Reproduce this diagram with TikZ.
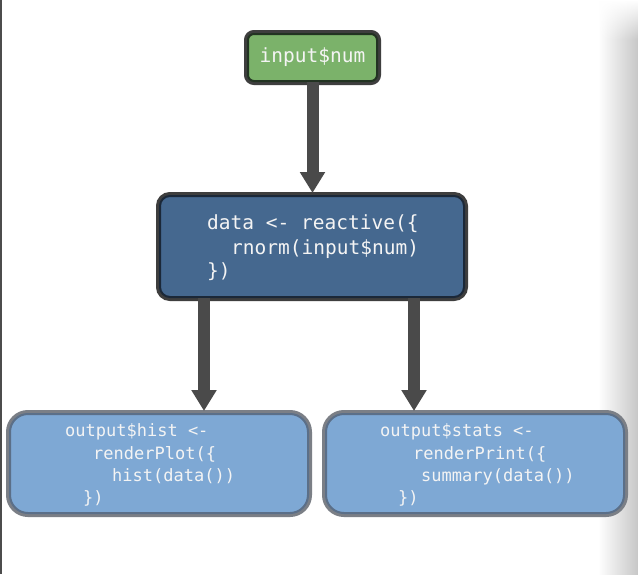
\documentclass[tikz,border=0pt]{standalone}
\usepackage{fontspec}
\newfontfamily\codefont{DejaVu Sans Mono}
\usetikzlibrary{arrows.meta, fadings}

\definecolor{inputfill}{HTML}{7BB26A}
\definecolor{inputline}{HTML}{223322}
\definecolor{reactfill}{HTML}{45688F}
\definecolor{reactline}{HTML}{1B2838}
\definecolor{outfill}{HTML}{7EA8D4}
\definecolor{outline}{HTML}{5B6F88}
\definecolor{framedark}{HTML}{3E3E3E}
\definecolor{framegray}{HTML}{7B7F86}
\definecolor{arrowgray}{HTML}{4A4A4A}
\definecolor{codewhite}{HTML}{F4F4F4}

\begin{document}
\begin{tikzpicture}[x=1pt, y=-1pt,
 box/.style={rectangle, inner sep=0pt, text=codewhite, line width=2pt},
 input node/.style={box, fill=inputfill, draw=inputline, rounded corners=6pt,
   minimum width=129pt, minimum height=47pt,
   font=\codefont\fontsize{19.5}{24}\selectfont,
   preaction={draw=framedark, line width=8pt}},
 react node/.style={box, fill=reactfill, draw=reactline, rounded corners=10pt,
   minimum width=304pt, minimum height=101pt,
   preaction={draw=framedark, line width=8pt}},
 out node/.style={box, fill=outfill, draw=outline, rounded corners=18pt,
   minimum width=298pt, minimum height=99pt,
   preaction={draw=framegray, line width=8pt}},
 code/.style={anchor=base west, inner sep=0pt, text=codewhite},
 big code/.style={code, font=\codefont\fontsize{19.5}{24}\selectfont},
 small code/.style={code, font=\codefont\fontsize{17}{20}\selectfont},
 flow/.style={draw=arrowgray, line width=12pt, shorten >=2pt,
   -{Triangle[length=21pt, width=24pt]}}]

  % page and slide edge
  \useasboundingbox (0,0) rectangle (638,574);
  \fill[white] (0,0) rectangle (638,574);
  \shade[left color=white, right color=black!22] (598,40) rectangle (638,574);
  \shade[left color=white, right color=black!22, path fading=north] (598,0) rectangle (638,40);
  \draw[line width=1.5pt, black!70] (1,0) -- (1,574);

  \node[input node] (input) at (312.5,57.5) {input\$num};
  \node[react node] (data) at (312,246.5) {};
  \node[out node] (hist) at (159,463.5) {};
  \node[out node] (stats) at (475,463.5) {};

  \foreach \n/\x/\y/\t in {data1/207/229/{data <- reactive(\{},
    data2/231/254/{rnorm(input\$num)}, data3/207/277/{\})}} {
   \node[big code] (\n) at (\x,\y) {\t};}

  \foreach \n/\x/\y/\t in {hist1/65/436/{output\$hist <-},
    hist2/93/459/{renderPlot(\{}, hist3/112/481/{hist(data())},
    hist4/83/503/{\})}, stats1/380/436/{output\$stats <-},
    stats2/413/459/{renderPrint(\{}, stats3/421/481/{summary(data())},
    stats4/398/503/{\})}} {
   \node[small code] (\n) at (\x,\y) {\t};}

  \draw[flow] (input.south) -- (input.south |- data.north);
  \draw[flow] ([xshift=45pt]data.south west) -- ([xshift=45pt]data.south west |- hist.north);
  \draw[flow] ([xshift=-51pt]data.south east) -- ([xshift=-51pt]data.south east |- stats.north);
\end{tikzpicture}
\end{document}
